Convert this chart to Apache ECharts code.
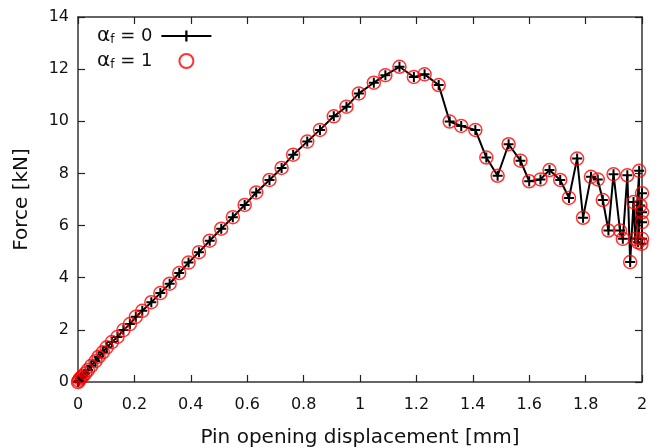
<!DOCTYPE html>
<html>
<head>
<meta charset="utf-8">
<script src="https://cdn.jsdelivr.net/npm/echarts@6/dist/echarts.min.js"></script>
<style>
  html, body { margin: 0; padding: 0; background: #fff; }
  #chart { width: 661px; height: 448px; }
</style>
</head>
<body>
<div id="chart"></div>
<script>
// displacement [mm] and force [kN]
const displacement = [
  0, 0.003, 0.007, 0.012, 0.017, 0.026, 0.035, 0.047, 0.062, 0.073, 0.088, 0.102,
  0.120, 0.140, 0.161, 0.184, 0.205, 0.228, 0.260, 0.292, 0.325, 0.359, 0.392,
  0.429, 0.467, 0.508, 0.549, 0.591, 0.632, 0.679, 0.722, 0.763, 0.813, 0.858,
  0.907, 0.952, 0.996, 1.049, 1.090, 1.140, 1.191, 1.229, 1.279, 1.318, 1.359,
  1.409, 1.448, 1.488, 1.527, 1.569, 1.600, 1.640, 1.672, 1.710, 1.741, 1.770,
  1.791, 1.819, 1.843, 1.861, 1.881, 1.899, 1.922, 1.932, 1.948, 1.958, 1.970,
  1.976, 1.990, 1.986, 2.0, 1.994, 2.0, 2.0, 2.0, 1.998
];
const forceAlpha0 = [
  0, 0.05, 0.13, 0.18, 0.23, 0.33, 0.46, 0.62, 0.80, 0.97, 1.14, 1.33,
  1.53, 1.73, 1.99, 2.22, 2.50, 2.73, 3.06, 3.41, 3.77, 4.18, 4.58,
  4.98, 5.42, 5.88, 6.32, 6.79, 7.27, 7.75, 8.21, 8.72, 9.22, 9.67,
  10.19, 10.56, 11.07, 11.48, 11.77, 12.09, 11.70, 11.80, 11.39, 9.99, 9.82,
  9.67, 8.61, 7.91, 9.12, 8.49, 7.70, 7.77, 8.13, 7.75, 7.06, 8.57,
  6.30, 7.87, 7.77, 6.98, 5.81, 7.97, 5.81, 5.49, 7.93, 4.60, 6.90,
  5.49, 8.10, 5.36, 7.24, 6.77, 6.51, 6.13, 5.49, 5.30
];
const forceAlpha1 = forceAlpha0.slice();
const xTicks = [0, 0.2, 0.4, 0.6, 0.8, 1, 1.2, 1.4, 1.6, 1.8, 2];
const yTicks = [0, 2, 4, 6, 8, 10, 12, 14];

const pts0 = displacement.map((x, i) => [x, forceAlpha0[i]]);
const pts1 = displacement.map((x, i) => [x, forceAlpha1[i]]);

const chart = echarts.init(document.getElementById('chart'));
const font = 'DejaVu Sans';
const axisColor = '#333';
const plusPath = 'path://M4,0H6V4H10V6H6V10H4V6H0V4H4Z';

const axisCommon = {
  type: 'value',
  axisLine: { show: true, onZero: false, lineStyle: { color: axisColor, width: 1.5 } },
  axisTick: { show: true, inside: true, length: 7, lineStyle: { color: '#222', width: 1.2 } },
  splitLine: { show: false }
};

chart.setOption({
  animation: false,
  backgroundColor: '#fff',
  grid: { left: 78, right: 19, top: 17, bottom: 66, outerBoundsMode: 'none', containLabel: false },
  legend: {
    left: 92, top: 21,
    orient: 'vertical',
    align: 'right',
    itemWidth: 50,
    itemHeight: 14,
    itemGap: 5,
    textStyle: {
      fontFamily: font, fontSize: 18, color: '#111', padding: [0, 4, 0, 0], lineHeight: 20,
      rich: {
        a: { fontFamily: font, fontSize: 20, color: '#111', lineHeight: 20 },
        s: { fontFamily: font, fontSize: 12, color: '#111', lineHeight: 20, verticalAlign: 'bottom', padding: [6, 0, 0, 0] },
        b: { fontFamily: font, fontSize: 18, color: '#111', lineHeight: 20 }
      }
    },
    formatter: function (name) {
      return name === 'a0' ? '{a|α}{s|f}{b| = 0}' : '{a|α}{s|f}{b| = 1}';
    },
    data: ['a0', 'a1']
  },
  xAxis: [
    Object.assign({}, axisCommon, {
      min: 0, max: 2, interval: 0.2,
      name: 'Pin opening displacement [mm]',
      nameLocation: 'middle', nameGap: 46,
      nameTextStyle: { fontFamily: font, fontSize: 20, color: '#111' },
      axisLabel: {
        margin: 15, fontFamily: font, fontSize: 16, color: '#111',
        formatter: v => String(xTicks.find(t => Math.abs(t - v) < 1e-6) ?? v)
      }
    }),
    Object.assign({}, axisCommon, {
      position: 'top', min: 0, max: 2, interval: 0.2, axisLabel: { show: false }
    })
  ],
  yAxis: [
    Object.assign({}, axisCommon, {
      min: 0, max: 14, interval: 2,
      name: 'Force [kN]',
      nameLocation: 'middle', nameGap: 46, nameRotate: 90,
      nameTextStyle: { fontFamily: font, fontSize: 20, color: '#111' },
      axisLabel: {
        margin: 9, fontFamily: font, fontSize: 16, color: '#111',
        formatter: v => String(yTicks.find(t => Math.abs(t - v) < 1e-6) ?? v)
      }
    }),
    Object.assign({}, axisCommon, {
      position: 'right', min: 0, max: 14, interval: 2, axisLabel: { show: false }
    })
  ],
  series: [
    {
      name: 'a0',
      type: 'line',
      data: pts0,
      symbol: plusPath,
      symbolSize: 10,
      showAllSymbol: true,
      clip: false,
      lineStyle: { color: '#000', width: 2 },
      itemStyle: { color: '#000', borderWidth: 0 },
      z: 2
    },
    {
      name: 'a1',
      type: 'scatter',
      data: pts1,
      symbol: 'circle',
      symbolSize: 13,
      clip: false,
      itemStyle: { color: 'rgba(0,0,0,0)', borderColor: '#ff0000', borderWidth: 1.5 },
      z: 3
    }
  ]
});
</script>
</body>
</html>
